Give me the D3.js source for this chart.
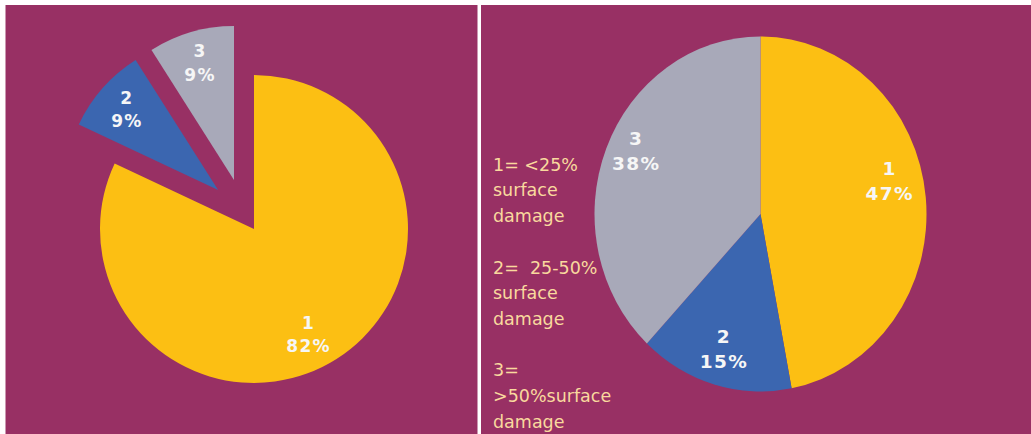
<!DOCTYPE html>
<html><head><meta charset="utf-8">
<script src="https://cdn.jsdelivr.net/npm/d3@7"></script>
<style>body{margin:0;background:#fff}svg{display:block}</style>
</head><body><svg id="c" width="1031" height="434"></svg>
<script>
// ---- data ----
const categories = ["1", "2", "3"];
const leftValues = [82, 9, 9];
const rightValues = [47, 15, 38];
const legendLines = ["1= <25%", "surface", "damage", "", "2=  25-50%", "surface", "damage", "", "3=", ">50%surface", "damage"];
const sliceColors = ["#fcbf13", "#3b66b0", "#a8a9b9"];

// ---- drawing ----
const W = 1031, H = 434;
const svg = d3.select("#c");
svg.append("rect").attr("width", W).attr("height", H).attr("fill", "#ffffff");
const purple = "#983064";
svg.append("rect").attr("x", 5.5).attr("y", 5).attr("width", 472).attr("height", H - 5).attr("fill", purple);
svg.append("rect").attr("x", 481).attr("y", 5).attr("width", W - 481).attr("height", H - 5).attr("fill", purple);

const pie = d3.pie().sort(null).value(d => d.v);
const deg = Math.PI / 180;

function drawPie(o) {
  const data = categories.map((c, i) => ({ c, v: o.values[i] }));
  const arcs = pie(data);
  const total = d3.sum(o.values);
  const arc = d3.arc().innerRadius(0).outerRadius(o.r);
  const g = svg.append("g").attr("transform", `translate(${o.cx},${o.cy})`);
  const ex = arcs.filter((a, i) => o.explode[i]);
  const groupMid = ex.length ? d3.mean(ex, a => (a.startAngle + a.endAngle) / 2) : 0;
  const offs = arcs.map((a, i) => {
    const mid = (a.startAngle + a.endAngle) / 2;
    if (!o.explode[i]) return [0, 0];
    const ang = mid + o.pull * (groupMid - mid);
    return [o.explodeDist * Math.sin(ang), -o.explodeDist * Math.cos(ang)];
  });
  g.selectAll("path.slice").data(arcs).join("path")
    .attr("class", "slice")
    .attr("d", arc)
    .attr("fill", (d, i) => sliceColors[i])
    .attr("transform", (d, i) => `translate(${offs[i][0]},${offs[i][1]}) scale(${o.sx},1)`);
  arcs.forEach((a, i) => {
    const la = (a.startAngle + a.endAngle) / 2 + o.nudge[i] * deg;
    const lx = offs[i][0] + o.lr[i] * o.r * o.sx * Math.sin(la);
    const ly = offs[i][1] - o.lr[i] * o.r * Math.cos(la);
    const t = g.append("text")
      .attr("text-anchor", "middle")
      .attr("font-family", "DejaVu Sans, Verdana, sans-serif")
      .attr("font-weight", "bold")
      .attr("font-size", o.fs)
      .attr("letter-spacing", o.ls)
      .attr("fill", "#f6f6f6");
    const cap = o.fs * 0.36;
    t.append("tspan").attr("x", lx).attr("y", ly - o.gap / 2 + cap).text(categories[i]);
    t.append("tspan").attr("x", lx).attr("y", ly + o.gap / 2 + cap).text(Math.round(a.data.v / total * 100) + "%");
  });
}

drawPie({
  values: leftValues, cx: 254, cy: 229, r: 154, sx: 1,
  explode: [false, true, true], explodeDist: 53, pull: 0.37,
  lr: [0.77, 0.79, 0.79], nudge: [5, 0, 0],
  fs: 17, ls: 1.3, gap: 23.5
});

drawPie({
  values: rightValues, cx: 760.5, cy: 214, r: 177.5, sx: 166 / 177.5,
  explode: [false, false, false], explodeDist: 0, pull: 0,
  lr: [0.8, 0.79, 0.83], nudge: [-8, 0, 4],
  fs: 18.5, ls: 1.4, gap: 25
});

// legend text block
const leg = svg.append("text")
  .attr("font-family", "DejaVu Sans, Verdana, sans-serif")
  .attr("font-size", 17.5)
  .attr("fill", "#f9d99e")
  .attr("xml:space", "preserve")
  .style("white-space", "pre");
legendLines.forEach((s, k) => {
  if (s === "") return;
  leg.append("tspan").attr("x", 493).attr("y", 170.7 + 25.7 * k).text(s);
});
</script>
</body></html>
